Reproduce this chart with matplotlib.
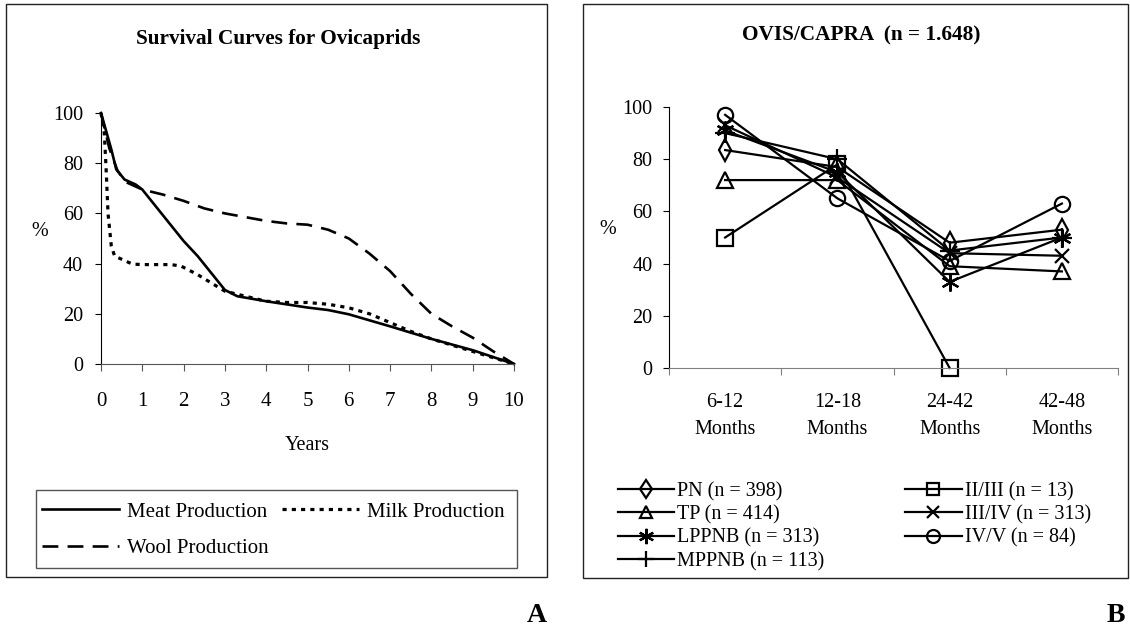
import numpy as np
import matplotlib.pyplot as plt
from matplotlib.patches import Rectangle

plt.rcParams['font.family'] = ['Liberation Serif', 'DejaVu Serif']

# ---- chart A: survival curves (years, %)
meat_x = [0, 0.13, 0.25, 0.37, 0.57, 0.84, 1.0, 2.0, 2.34, 3.0, 3.3, 4.0, 5.0, 5.5, 6.0, 7.0, 8.0, 9.0, 10.0]
meat_y = [100, 92.5, 85.5, 77.5, 73.5, 71.5, 69.5, 49, 43, 29.5, 27, 25, 22.5, 21.5, 19.8, 15, 10, 5.5, 0]

milk_x = [0, 0.08, 0.12, 0.17, 0.25, 0.33, 0.76, 1.0, 1.7, 1.94, 2.34, 3.0, 4.0, 4.5, 5.0, 5.5, 6.0, 6.5, 7.0, 7.5, 8.0, 9.0, 10.0]
milk_y = [100, 92, 79, 60, 47, 43, 39.8, 39.6, 39.6, 39, 35.6, 29, 25, 24.5, 24.5, 23.8, 22.4, 20, 16.5, 13, 10, 5, 0]

wool_x = [0, 0.2, 0.4, 0.6, 1.0, 1.5, 2.0, 2.5, 3.0, 4.0, 4.5, 5.0, 5.5, 6.0, 6.5, 7.0, 7.5, 8.0, 8.5, 9.0, 9.5, 10.0]
wool_y = [100, 86, 77, 72.5, 69.5, 67.5, 65, 62, 60, 57, 56, 55.5, 53.5, 50, 44, 37, 28, 20, 15, 10.5, 5, 0]

# ---- chart B: OVIS/CAPRA by period
periods = ['6-12\nMonths', '12-18\nMonths', '24-42\nMonths', '42-48\nMonths']
pn = [83.5, 77, 48, 53]
tp = [72, 72, 39, 37]
lppnb = [91, 75, 33, 50]
mppnb = [90, 80, 45, 50]
ii_iii = [50, 78, 0, np.nan]
iii_iv = [93, 73, 44, 43]
iv_v = [97, 65, 41, 63]

W, H = 1130, 639
fig = plt.figure(figsize=(W / 100, H / 100), dpi=100)


def fx(px):
    return px / W


def fy(py):
    return 1 - py / H


def add_ax(l, t, r, b):
    return fig.add_axes([fx(l), fy(b), fx(r) - fx(l), fy(t) - fy(b)])


# outer frames
fig.patches.append(Rectangle((fx(6), fy(577)), fx(547) - fx(6), fy(4) - fy(577),
                             transform=fig.transFigure, fill=False, ec='#222222', lw=1))
fig.patches.append(Rectangle((fx(583), fy(578)), fx(1128) - fx(583), fy(4) - fy(578),
                             transform=fig.transFigure, fill=False, ec='#222222', lw=1))

# ================= A =================
ax = add_ax(101, 113, 514, 364)
lw = 1.9
l1, = ax.plot(meat_x, meat_y, color='black', lw=lw, clip_on=False, label='Meat Production')
l2, = ax.plot(milk_x, milk_y, color='black', lw=lw + 0.4, ls=(0, (1.3, 1.6)), clip_on=False,
              label='Milk Production')
l3, = ax.plot(wool_x, wool_y, color='black', lw=lw, ls=(0, (6, 3.5)), clip_on=False,
              label='Wool Production')
ax.set_xlim(0, 10)
ax.set_ylim(0, 100)
ax.set_xticks(range(0, 11))
ax.set_yticks(range(0, 101, 20))
for s in ['top', 'right']:
    ax.spines[s].set_visible(False)
ax.spines['left'].set_color('black')
ax.spines['bottom'].set_color('#555555')
ax.tick_params(axis='x', direction='out', length=5, color='#555555', labelsize=15, pad=15)
ax.tick_params(axis='y', direction='out', length=4, color='black', labelsize=14.5, pad=9)
ax.set_xlabel('Years', fontsize=14.5, labelpad=18)
fig.text(fx(40), fy(232), '%', fontsize=14.5, ha='center', va='center')
fig.text(fx(278), fy(39), 'Survival Curves for Ovicaprids', fontsize=15.3, fontweight='bold',
         ha='center', va='center')

# legend A
fig.patches.append(Rectangle((fx(36), fy(568)), fx(517) - fx(36), fy(490) - fy(568),
                             transform=fig.transFigure, fill=False, ec='#555555', lw=1))
fig.legend([l1, l3, l2], ['Meat Production', 'Wool Production', 'Milk Production'],
           loc='upper left', bbox_to_anchor=(fx(42), fy(502)), ncol=2, frameon=False,
           fontsize=15, handlelength=3.7, handletextpad=0.4, columnspacing=0.6,
           labelspacing=0.8, borderaxespad=0, borderpad=0)

# ================= B =================
bx = add_ax(669, 107, 1118, 368)
cx = np.arange(len(periods)) + 0.5
kw = dict(color='black', lw=1.6, mfc='none', mec='black', mew=1.6, clip_on=False)
h_pn, = bx.plot(cx, pn, marker='d', ms=11, **kw)
h_tp, = bx.plot(cx, tp, marker='^', ms=11, **kw)
h_lp, = bx.plot(cx, lppnb, marker=(6, 2, 0), ms=13, **kw)
h_mp, = bx.plot(cx, mppnb, marker='+', ms=14, **kw)
h_23, = bx.plot(cx, ii_iii, marker='s', ms=11, **kw)
h_34, = bx.plot(cx, iii_iv, marker='x', ms=10, **kw)
h_45, = bx.plot(cx, iv_v, marker='o', ms=11, **kw)
bx.set_xlim(0, 4)
bx.set_ylim(0, 100)
bx.set_xticks(range(0, 5))
bx.set_xticklabels([])
bx.set_xticks(cx, minor=True)
bx.set_xticklabels(periods, minor=True, fontsize=14.5, linespacing=1.6)
bx.tick_params(axis='x', which='minor', length=0, pad=18)
bx.tick_params(axis='x', which='major', direction='out', length=5, color='#808080')
bx.set_yticks(range(0, 101, 20))
bx.tick_params(axis='y', direction='out', length=4, labelsize=14.5, pad=8)
for s in ['top', 'right']:
    bx.spines[s].set_visible(False)
bx.spines['bottom'].set_color('#808080')
fig.text(fx(608), fy(230), '%', fontsize=14.5, ha='center', va='center')
fig.text(fx(861), fy(35), 'OVIS/CAPRA  (n = 1.648)', fontsize=15.3, fontweight='bold',
         ha='center', va='center')

bx.legend([h_pn, h_tp, h_lp, h_mp, h_23, h_34, h_45],
          ['PN (n = 398)', 'TP (n = 414)', 'LPPNB (n = 313)', 'MPPNB (n = 113)',
           'II/III (n = 13)', 'III/IV (n = 313)', 'IV/V (n = 84)'],
          loc='upper left', bbox_to_anchor=(fx(618), fy(482)), bbox_transform=fig.transFigure,
          ncol=2, frameon=False, fontsize=14.5, handlelength=2.8, handletextpad=0.15,
          columnspacing=4.0, labelspacing=0.2, borderaxespad=0, borderpad=0, markerscale=0.85)

# panel letters
fig.text(fx(537), fy(615), 'A', fontsize=20, fontweight='bold', ha='center', va='center')
fig.text(fx(1116), fy(615), 'B', fontsize=20, fontweight='bold', ha='center', va='center')

fig.savefig('out.png', dpi=100)
